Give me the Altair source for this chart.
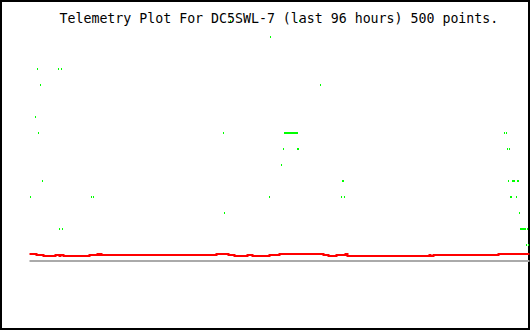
import altair as alt
import pandas as pd

# point index 0..499 across the last 96 hours
TITLE = "Telemetry Plot For DC5SWL-7 (last 96 hours) 500 points."

# green telemetry samples: (point index, level)
green_idx = [1, 6, 8, 9, 11, 13, 29, 30, 32, 33, 62, 64,
             194, 195, 201, 240, 241, 252, 254,
             255, 256, 257, 258, 259, 260, 261, 262, 263, 264, 265, 266, 267, 268,
             268, 269, 270, 291, 312, 313, 314, 315,
             475, 477, 478, 480, 479, 483, 484, 485, 488, 489, 481, 482, 487, 490,
             491, 492, 493, 494, 495, 496, 498, 497, 499]
green_val = [4, 9, 12, 8, 11, 5, 12, 2, 12, 2, 4, 4,
             8, 3, 15, 4, 14, 6, 7,
             8, 8, 8, 8, 8, 8, 8, 8, 8, 8, 8, 8, 8, 8,
             7, 7, 15, 11, 4, 5, 5, 4,
             8, 8, 7, 7, 5, 5, 5, 5, 5, 5, 4, 4, 4, 3,
             2, 2, 2, 2, 2, 2, 2, 1, 1]

# red series: step starts (point index) and level
red_idx = [0, 7, 14, 26, 30, 31, 34, 60, 68, 69, 71, 72, 187, 199, 205, 218,
           223, 240, 250, 294, 299, 307, 316, 318, 400, 401, 404, 469, 500]
red_val = [0.4375, 0.375, 0.3125, 0.375, 0.3125, 0.375, 0.3125, 0.375, 0.4375,
           0.375, 0.4375, 0.375, 0.4375, 0.375, 0.3125, 0.375, 0.3125, 0.375,
           0.4375, 0.375, 0.3125, 0.375, 0.4375, 0.3125, 0.375, 0.3125, 0.375,
           0.4375, 0.4375]

# grey reference series
grey_start, grey_end, grey_val = [0], [500], [0.0]

green_df = pd.DataFrame({"i": green_idx, "v": green_val})
red_df = pd.DataFrame({"i": red_idx, "v": red_val})
grey_df = pd.DataFrame({"i": grey_start, "i2": grey_end, "v": grey_val})

xs = alt.Scale(domain=[-28.5, 499.5], nice=False, zero=False)
ys = alt.Scale(domain=[-4.25, 16.25], nice=False, zero=False)

grey = alt.Chart(grey_df).mark_rule(color="#aaaaaa", strokeWidth=2).encode(
    x=alt.X("i:Q", scale=xs, axis=None),
    x2="i2:Q",
    y=alt.Y("v:Q", scale=ys, axis=None),
)

red = alt.Chart(red_df).mark_line(color="#ff0000", strokeWidth=2,
                                  interpolate="step-after").encode(
    x=alt.X("i:Q", scale=xs, axis=None),
    y=alt.Y("v:Q", scale=ys, axis=None),
)

green = alt.Chart(green_df).mark_tick(color="#00ff00", orient="vertical",
                                      size=2, thickness=1, opacity=1).encode(
    x=alt.X("i:Q", scale=xs, axis=None),
    y=alt.Y("v:Q", scale=ys, axis=None),
)

chart = (grey + red + green).properties(
    width=528,
    height=328,
    padding={"left": 1, "top": 1, "right": 1, "bottom": 1},
    autosize=alt.AutoSizeParams(type="none"),
    background="white",
    title=alt.TitleParams(
        text=TITLE,
        font="DejaVu Sans Mono",
        fontSize=13.25,
        fontWeight="normal",
        color="black",
        anchor="start",
        frame="group",
        orient="top",
        baseline="alphabetic",
        offset=0,
        dx=58.5,
        dy=35,
    ),
).configure_view(stroke="black", strokeWidth=2)

chart.save("out.html", embed_options={"renderer": "svg", "actions": False})
